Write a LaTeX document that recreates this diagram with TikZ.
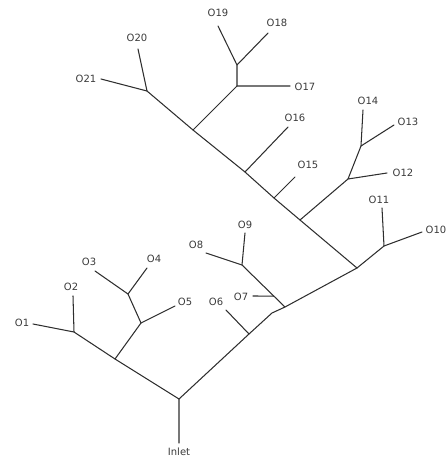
\documentclass[tikz,border=0pt]{standalone}
\usepackage{fontspec}
\setmainfont{DejaVu Sans}
\usepackage{tikz}
\usetikzlibrary{positioning, calc}
\definecolor{mpipe}{HTML}{2E2E2E}
\definecolor{mtext}{HTML}{3A3A3A}
\tikzset{
  pipe/.style={draw=mpipe, line width=1.05pt, line cap=round, line join=round},
  olabel/.style={font=\fontsize{10}{12}\selectfont, text=mtext, inner sep=0pt},
}

\begin{document}
\begin{tikzpicture}[x=1pt, y=-1pt]
  \useasboundingbox (0,0) rectangle (447,459);

  % Inlet và các điểm nút
  \coordinate (in) at (179,443);
  \coordinate (j0) at (179,399);
  \coordinate (j1) at (115,359);
  \coordinate (j2) at (74,332);
  \coordinate (j3) at (141,323);
  \coordinate (j4) at (128,294);
  \coordinate (j5) at (249,334);
  \coordinate (j6) at (272,313);
  \coordinate (j7) at (285,307);
  \coordinate (j8) at (357,268);
  \coordinate (j9) at (242,265);
  \coordinate (j7b) at ($(j7)!0.26!(j9)$);
  \coordinate (j10) at (384,246);
  \coordinate (j11) at (300,220);
  \coordinate (j12) at (348,179);
  \coordinate (j13) at (361,146);
  \coordinate (j14) at (274,198);
  \coordinate (j15) at (245,172);
  \coordinate (j16) at (193,130);
  \coordinate (j17) at (237,86);
  \coordinate (j18) at (237,65);
  \coordinate (j19) at (147,91);

  % Đầu ra
  \coordinate (e1) at (33,324);
  \coordinate (e2) at (73,296);
  \coordinate (e3) at (95,271);
  \coordinate (e4) at (147,268);
  \coordinate (e5) at (175,306);
  \coordinate (e6) at (226,310);
  \coordinate (e7) at (253,296);
  \coordinate (e8) at (206,253);
  \coordinate (e9) at (245,233);
  \coordinate (e10) at (422,232);
  \coordinate (e11) at (382,208);
  \coordinate (e12) at (387,173);
  \coordinate (e13) at (394,125);
  \coordinate (e14) at (363,110);
  \coordinate (e15) at (295,177);
  \coordinate (e16) at (288,127);
  \coordinate (e17) at (290,86);
  \coordinate (e18) at (268,33);
  \coordinate (e19) at (218,26);
  \coordinate (e20) at (138,49);
  \coordinate (e21) at (101,79);

  % Nhãn
  \node[olabel] (lin) at (179,452) {Inlet};
  \node[olabel] (l1) at (22,323) {O1};
  \node[olabel] (l2) at (71,287) {O2};
  \node[olabel] (l3) at (89,262) {O3};
  \node[olabel] (l4) at (154,259) {O4};
  \node[olabel] (l5) at (185,302) {O5};
  \node[olabel] (l6) at (216,302) {O6};
  \node[olabel] (l7) at (241,297) {O7};
  \node[olabel] (l8) at (196,245) {O8};
  \node[olabel] (l9) at (245,225) {O9};
  \node[olabel] (l10) at (436,230) {O10};
  \node[olabel] (l11) at (379,200) {O11};
  \node[olabel] (l12) at (403,173) {O12};
  \node[olabel] (l13) at (408,122) {O13};
  \node[olabel] (l14) at (368,101) {O14};
  \node[olabel] (l15) at (308,165) {O15};
  \node[olabel] (l16) at (295,118) {O16};
  \node[olabel] (l17) at (305,87) {O17};
  \node[olabel] (l18) at (277,23) {O18};
  \node[olabel] (l19) at (218,13) {O19};
  \node[olabel] (l20) at (137,38) {O20};
  \node[olabel] (l21) at (86,79) {O21};

  % Nhánh trái
  \draw[pipe] (in) -- (j0) -- (j1) -- (j2) -- (e1);
  \draw[pipe] (j2) -- (e2);
  \draw[pipe] (j1) -- (j3) -- (e5);
  \draw[pipe] (j3) -- (j4) -- (e3);
  \draw[pipe] (j4) -- (e4);

  % Nhánh phải
  \draw[pipe] (j0) -- (j5) -- (j6) -- (j7) -- (j8);
  \draw[pipe] (j5) -- (e6);
  \draw[pipe] (j7) -- (j9) -- (e8);
  \draw[pipe] (j9) -- (e9);
  \draw[pipe] (j7b) -- (e7);
  \draw[pipe] (j8) -- (j10) -- (e10);
  \draw[pipe] (j10) -- (e11);

  % Thân chính lên trên
  \draw[pipe] (j8) -- (j11) -- (j14) -- (j15) -- (j16) -- (j19);
  \draw[pipe] (j11) -- (j12) -- (e12);
  \draw[pipe] (j12) -- (j13) -- (e14);
  \draw[pipe] (j13) -- (e13);
  \draw[pipe] (j14) -- (e15);
  \draw[pipe] (j15) -- (e16);
  \draw[pipe] (j16) -- (j17) -- (e17);
  \draw[pipe] (j17) -- (j18) -- (e19);
  \draw[pipe] (j18) -- (e18);
  \draw[pipe] (j19) -- (e20);
  \draw[pipe] (j19) -- (e21);
\end{tikzpicture}
\end{document}
